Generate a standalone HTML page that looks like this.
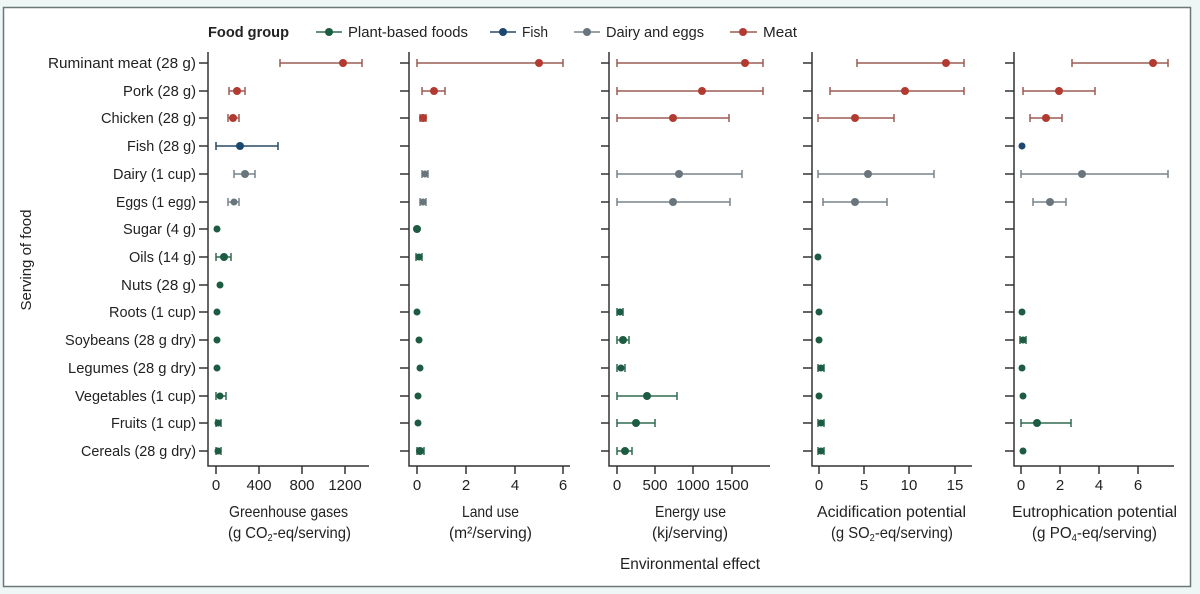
<!DOCTYPE html>
<html><head><meta charset="utf-8"><style>
html,body{margin:0;padding:0;background:#eef6f6;}
svg{display:block;font-family:"Liberation Sans",sans-serif;}
text{fill:#222;font-size:15px;}
.tt{font-size:16px;}
.ax{stroke:#333;stroke-width:1.5;fill:none;}
.rb{stroke:#9c5b55;stroke-width:1.5;fill:none;}
.rd{fill:#b23a30;}
.gb{stroke:#77838a;stroke-width:1.5;fill:none;}
.gd{fill:#69757c;}
.bb{stroke:#2a4a66;stroke-width:1.5;fill:none;}
.bd{fill:#1c4870;}
.pb{stroke:#2f6b52;stroke-width:1.5;fill:none;}
.pd{fill:#1d5b43;}
</style></head><body>
<svg width="1200" height="594" viewBox="0 0 1200 594" xmlns="http://www.w3.org/2000/svg">
<rect x="0" y="0" width="1200" height="594" fill="#eef6f6"/>
<rect x="3.5" y="7.5" width="1187" height="579" fill="#fff" stroke="#6b7878" stroke-width="1.5"/>

<!-- Legend -->
<text x="208" y="37" font-weight="bold" textLength="81" lengthAdjust="spacingAndGlyphs">Food group</text>
<path class="pb" d="M316 32H342"/><circle class="pd" cx="329" cy="32" r="4"/>
<text x="348" y="37" textLength="120" lengthAdjust="spacingAndGlyphs">Plant-based foods</text>
<path class="bb" d="M490 32H516"/><circle class="bd" cx="503" cy="32" r="4"/>
<text x="522" y="37" textLength="26" lengthAdjust="spacingAndGlyphs">Fish</text>
<path class="gb" d="M574 32H600"/><circle class="gd" cx="587" cy="32" r="4"/>
<text x="606" y="37" textLength="98" lengthAdjust="spacingAndGlyphs">Dairy and eggs</text>
<path class="rb" d="M730 32H757"/><circle class="rd" cx="743" cy="32" r="4"/>
<text x="763" y="37" textLength="34" lengthAdjust="spacingAndGlyphs">Meat</text>

<!-- Y axis title -->
<text transform="translate(31,260) rotate(-90)" text-anchor="middle" textLength="101" lengthAdjust="spacingAndGlyphs">Serving of food</text>

<!-- Y labels -->
<g text-anchor="end">
<text x="196" y="68" textLength="148" lengthAdjust="spacingAndGlyphs">Ruminant meat (28 g)</text>
<text x="196" y="96" textLength="73" lengthAdjust="spacingAndGlyphs">Pork (28 g)</text>
<text x="196" y="123" textLength="95" lengthAdjust="spacingAndGlyphs">Chicken (28 g)</text>
<text x="196" y="151" textLength="69" lengthAdjust="spacingAndGlyphs">Fish (28 g)</text>
<text x="196" y="179" textLength="83" lengthAdjust="spacingAndGlyphs">Dairy (1 cup)</text>
<text x="196" y="207" textLength="80" lengthAdjust="spacingAndGlyphs">Eggs (1 egg)</text>
<text x="196" y="234" textLength="73" lengthAdjust="spacingAndGlyphs">Sugar (4 g)</text>
<text x="196" y="262" textLength="67" lengthAdjust="spacingAndGlyphs">Oils (14 g)</text>
<text x="196" y="290" textLength="75" lengthAdjust="spacingAndGlyphs">Nuts (28 g)</text>
<text x="196" y="317" textLength="87" lengthAdjust="spacingAndGlyphs">Roots (1 cup)</text>
<text x="196" y="345" textLength="131" lengthAdjust="spacingAndGlyphs">Soybeans (28 g dry)</text>
<text x="196" y="373" textLength="128" lengthAdjust="spacingAndGlyphs">Legumes (28 g dry)</text>
<text x="196" y="401" textLength="121" lengthAdjust="spacingAndGlyphs">Vegetables (1 cup)</text>
<text x="196" y="428" textLength="85" lengthAdjust="spacingAndGlyphs">Fruits (1 cup)</text>
<text x="196" y="456" textLength="115" lengthAdjust="spacingAndGlyphs">Cereals (28 g dry)</text>
</g>

<!-- Axes: panel 1 -->
<path class="ax" d="M208 52V466H369"/>
<path class="ax" d="M199 63H208M199 91H208M199 118H208M199 146H208M199 174H208M199 202H208M199 229H208M199 257H208M199 285H208M199 312H208M199 340H208M199 368H208M199 396H208M199 423H208M199 451H208"/>
<path class="ax" d="M216 466V474M259 466V474M302 466V474M345 466V474"/>
<!-- panel 2 -->
<path class="ax" d="M409 52V466H570"/>
<path class="ax" d="M400 63H409M400 91H409M400 118H409M400 146H409M400 174H409M400 202H409M400 229H409M400 257H409M400 285H409M400 312H409M400 340H409M400 368H409M400 396H409M400 423H409M400 451H409"/>
<path class="ax" d="M417 466V474M466 466V474M515 466V474M563 466V474"/>
<!-- panel 3 -->
<path class="ax" d="M609 52V466H770"/>
<path class="ax" d="M601 63H609M601 91H609M601 118H609M601 146H609M601 174H609M601 202H609M601 229H609M601 257H609M601 285H609M601 312H609M601 340H609M601 368H609M601 396H609M601 423H609M601 451H609"/>
<path class="ax" d="M617 466V474M655 466V474M693 466V474M732 466V474"/>
<!-- panel 4 -->
<path class="ax" d="M812 52V466H972"/>
<path class="ax" d="M803 63H812M803 91H812M803 118H812M803 146H812M803 174H812M803 202H812M803 229H812M803 257H812M803 285H812M803 312H812M803 340H812M803 368H812M803 396H812M803 423H812M803 451H812"/>
<path class="ax" d="M819 466V474M864 466V474M909 466V474M955 466V474"/>
<!-- panel 5 -->
<path class="ax" d="M1014 52V466H1174"/>
<path class="ax" d="M1005 63H1014M1005 91H1014M1005 118H1014M1005 146H1014M1005 174H1014M1005 202H1014M1005 229H1014M1005 257H1014M1005 285H1014M1005 312H1014M1005 340H1014M1005 368H1014M1005 396H1014M1005 423H1014M1005 451H1014"/>
<path class="ax" d="M1021 466V474M1060 466V474M1099 466V474M1138 466V474"/>

<!-- Tick labels -->
<g text-anchor="middle">
<text x="216" y="490">0</text><text x="259" y="490">400</text><text x="302" y="490">800</text><text x="345" y="490">1200</text>
<text x="417" y="490">0</text><text x="466" y="490">2</text><text x="515" y="490">4</text><text x="563" y="490">6</text>
<text x="617" y="490">0</text><text x="655" y="490">500</text><text x="693" y="490">1000</text><text x="732" y="490">1500</text>
<text x="819" y="490">0</text><text x="864" y="490">5</text><text x="909" y="490">10</text><text x="955" y="490">15</text>
<text x="1021" y="490">0</text><text x="1060" y="490">2</text><text x="1099" y="490">4</text><text x="1138" y="490">6</text>

<!-- Titles -->
<text class="tt" x="288.5" y="517" textLength="119" lengthAdjust="spacingAndGlyphs">Greenhouse gases</text>
<text class="tt" x="289.5" y="538" textLength="123" lengthAdjust="spacingAndGlyphs">(g CO<tspan font-size="10" dy="3">2</tspan><tspan dy="-3">-eq/serving)</tspan></text>
<text class="tt" x="490.5" y="517" textLength="57" lengthAdjust="spacingAndGlyphs">Land use</text>
<text class="tt" x="490.5" y="538" textLength="83" lengthAdjust="spacingAndGlyphs">(m²/serving)</text>
<text class="tt" x="690.5" y="517" textLength="71" lengthAdjust="spacingAndGlyphs">Energy use</text>
<text class="tt" x="690" y="538" textLength="76" lengthAdjust="spacingAndGlyphs">(kj/serving)</text>
<text class="tt" x="891.5" y="517" textLength="149" lengthAdjust="spacingAndGlyphs">Acidification potential</text>
<text class="tt" x="892" y="538" textLength="122" lengthAdjust="spacingAndGlyphs">(g SO<tspan font-size="10" dy="3">2</tspan><tspan dy="-3">-eq/serving)</tspan></text>
<text class="tt" x="1094.5" y="517" textLength="165" lengthAdjust="spacingAndGlyphs">Eutrophication potential</text>
<text class="tt" x="1094.5" y="538" textLength="125" lengthAdjust="spacingAndGlyphs">(g PO<tspan font-size="10" dy="3">4</tspan><tspan dy="-3">-eq/serving)</tspan></text>
<text class="tt" x="690" y="569" textLength="140" lengthAdjust="spacingAndGlyphs">Environmental effect</text>
</g>

<!-- ===== Panel 1 data ===== -->
<path class="rb" d="M280 63H362M280 59v8M362 59v8"/><circle class="rd" cx="343" cy="63" r="4"/>
<path class="rb" d="M229 91H245M229 87v8M245 87v8"/><circle class="rd" cx="237" cy="91" r="4"/>
<path class="rb" d="M228 118H239M228 114v8M239 114v8"/><circle class="rd" cx="233" cy="118" r="4"/>
<path class="bb" d="M216 146H278M216 142v8M278 142v8"/><circle class="bd" cx="240" cy="146" r="4"/>
<path class="gb" d="M234 174H255M234 170v8M255 170v8"/><circle class="gd" cx="245" cy="174" r="4"/>
<path class="gb" d="M228 202H239M228 198v8M239 198v8"/><circle class="gd" cx="234" cy="202" r="3.5"/>
<circle class="pd" cx="217" cy="229" r="3.5"/>
<path class="pb" d="M216 257H231M216 253v8M231 253v8"/><circle class="pd" cx="224" cy="257" r="4"/>
<circle class="pd" cx="220" cy="285" r="3.5"/>
<circle class="pd" cx="217" cy="312" r="3.5"/>
<circle class="pd" cx="217" cy="340" r="3.5"/>
<circle class="pd" cx="217" cy="368" r="3.5"/>
<path class="pb" d="M216 396H226M216 392v8M226 392v8"/><circle class="pd" cx="220" cy="396" r="3.5"/>
<path class="pb" d="M216 423H221M216 419v8M221 419v8"/><circle class="pd" cx="218" cy="423" r="3.5"/>
<path class="pb" d="M216 451H221M216 447v8M221 447v8"/><circle class="pd" cx="218" cy="451" r="3.5"/>

<!-- ===== Panel 2 data ===== -->
<path class="rb" d="M417 63H563M417 59v8M563 59v8"/><circle class="rd" cx="539" cy="63" r="4"/>
<path class="rb" d="M422 91H445M422 87v8M445 87v8"/><circle class="rd" cx="434" cy="91" r="4"/>
<path class="rb" d="M420 118H426M420 114v8M426 114v8"/><circle class="rd" cx="423" cy="118" r="4"/>
<path class="gb" d="M422 174H428M422 170v8M428 170v8"/><circle class="gd" cx="425" cy="174" r="3.5"/>
<path class="gb" d="M420 202H426M420 198v8M426 198v8"/><circle class="gd" cx="423" cy="202" r="3.5"/>
<circle class="pd" cx="417" cy="229" r="4"/>
<path class="pb" d="M416 257H422M416 253v8M422 253v8"/><circle class="pd" cx="419" cy="257" r="3.5"/>
<circle class="pd" cx="417" cy="312" r="3.5"/>
<circle class="pd" cx="419" cy="340" r="3.5"/>
<circle class="pd" cx="420" cy="368" r="3.5"/>
<circle class="pd" cx="418" cy="396" r="3.5"/>
<circle class="pd" cx="418" cy="423" r="3.5"/>
<path class="pb" d="M417 451H424M417 447v8M424 447v8"/><circle class="pd" cx="420" cy="451" r="4"/>

<!-- ===== Panel 3 data ===== -->
<path class="rb" d="M617 63H763M617 59v8M763 59v8"/><circle class="rd" cx="745" cy="63" r="4"/>
<path class="rb" d="M617 91H763M617 87v8M763 87v8"/><circle class="rd" cx="702" cy="91" r="4"/>
<path class="rb" d="M617 118H729M617 114v8M729 114v8"/><circle class="rd" cx="673" cy="118" r="4"/>
<path class="gb" d="M617 174H742M617 170v8M742 170v8"/><circle class="gd" cx="679" cy="174" r="4"/>
<path class="gb" d="M617 202H730M617 198v8M730 198v8"/><circle class="gd" cx="673" cy="202" r="4"/>
<path class="pb" d="M617 312H623M617 308v8M623 308v8"/><circle class="pd" cx="620" cy="312" r="3.5"/>
<path class="pb" d="M617 340H629M617 336v8M629 336v8"/><circle class="pd" cx="623" cy="340" r="4"/>
<path class="pb" d="M617 368H625M617 364v8M625 364v8"/><circle class="pd" cx="621" cy="368" r="3.5"/>
<path class="pb" d="M617 396H677M617 392v8M677 392v8"/><circle class="pd" cx="647" cy="396" r="4"/>
<path class="pb" d="M617 423H655M617 419v8M655 419v8"/><circle class="pd" cx="636" cy="423" r="4"/>
<path class="pb" d="M617 451H632M617 447v8M632 447v8"/><circle class="pd" cx="625" cy="451" r="4"/>

<!-- ===== Panel 4 data ===== -->
<path class="rb" d="M857 63H964M857 59v8M964 59v8"/><circle class="rd" cx="946" cy="63" r="4"/>
<path class="rb" d="M830 91H964M830 87v8M964 87v8"/><circle class="rd" cx="905" cy="91" r="4"/>
<path class="rb" d="M818 118H894M818 114v8M894 114v8"/><circle class="rd" cx="855" cy="118" r="4"/>
<path class="gb" d="M818 174H934M818 170v8M934 170v8"/><circle class="gd" cx="868" cy="174" r="4"/>
<path class="gb" d="M823 202H887M823 198v8M887 198v8"/><circle class="gd" cx="855" cy="202" r="4"/>
<circle class="pd" cx="818" cy="257" r="3.5"/>
<circle class="pd" cx="819" cy="312" r="3.5"/>
<circle class="pd" cx="819" cy="340" r="3.5"/>
<path class="pb" d="M818 368H824M818 364v8M824 364v8"/><circle class="pd" cx="821" cy="368" r="3.5"/>
<circle class="pd" cx="819" cy="396" r="3.5"/>
<path class="pb" d="M818 423H824M818 419v8M824 419v8"/><circle class="pd" cx="821" cy="423" r="3.5"/>
<path class="pb" d="M818 451H824M818 447v8M824 447v8"/><circle class="pd" cx="821" cy="451" r="3.5"/>

<!-- ===== Panel 5 data ===== -->
<path class="rb" d="M1072 63H1168M1072 59v8M1168 59v8"/><circle class="rd" cx="1153" cy="63" r="4"/>
<path class="rb" d="M1023 91H1095M1023 87v8M1095 87v8"/><circle class="rd" cx="1059" cy="91" r="4"/>
<path class="rb" d="M1030 118H1062M1030 114v8M1062 114v8"/><circle class="rd" cx="1046" cy="118" r="4"/>
<circle class="bd" cx="1022" cy="146" r="3.5"/>
<path class="gb" d="M1021 174H1168M1021 170v8M1168 170v8"/><circle class="gd" cx="1082" cy="174" r="4"/>
<path class="gb" d="M1033 202H1066M1033 198v8M1066 198v8"/><circle class="gd" cx="1050" cy="202" r="4"/>
<circle class="pd" cx="1022" cy="312" r="3.5"/>
<path class="pb" d="M1020 340H1026M1020 336v8M1026 336v8"/><circle class="pd" cx="1023" cy="340" r="3.5"/>
<circle class="pd" cx="1022" cy="368" r="3.5"/>
<circle class="pd" cx="1023" cy="396" r="3.5"/>
<path class="pb" d="M1021 423H1071M1021 419v8M1071 419v8"/><circle class="pd" cx="1037" cy="423" r="4"/>
<circle class="pd" cx="1023" cy="451" r="3.5"/>
</svg>
</body></html>
